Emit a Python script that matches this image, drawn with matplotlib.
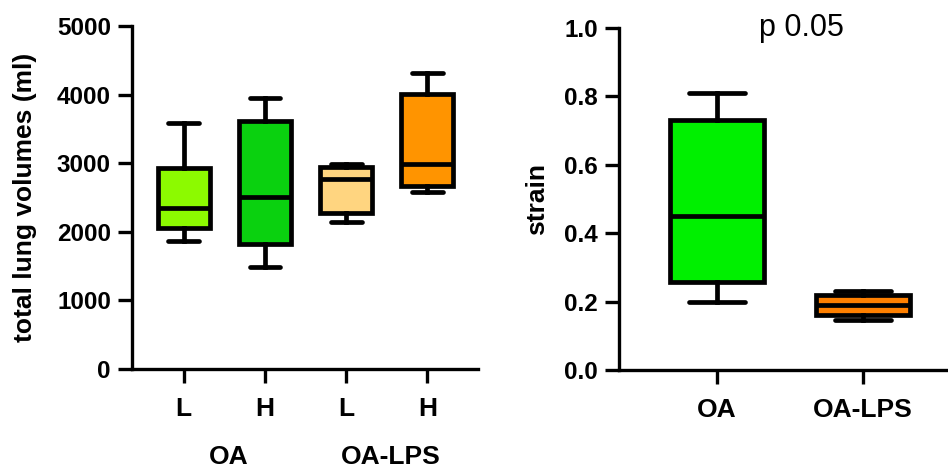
import matplotlib.pyplot as plt

plt.rcParams['font.family'] = ['Liberation Sans', 'DejaVu Sans']
plt.rcParams['font.weight'] = 'bold'

# left panel: total lung volumes (ml)
vol_groups = ['L', 'H', 'L', 'H']
vol_whislo = [1866, 1487, 2143, 2580]
vol_q1 = [2055, 1822, 2274, 2668]
vol_med = [2347, 2507, 2770, 2988]
vol_q3 = [2930, 3615, 2945, 4009]
vol_whishi = [3586, 3950, 2988, 4315]
vol_colors = ['#8cfa00', '#0ad10f', '#ffd580', '#ff9400']

# right panel: strain
strain_groups = ['OA', 'OA-LPS']
strain_whislo = [0.199, 0.146]
strain_q1 = [0.257, 0.161]
strain_med = [0.450, 0.190]
strain_q3 = [0.731, 0.219]
strain_whishi = [0.810, 0.231]
strain_colors = ['#00f000', '#ff8000']


def make_stats(lo, q1, med, q3, hi):
    return [dict(whislo=a, q1=b, med=c, q3=d, whishi=e, fliers=[])
            for a, b, c, d, e in zip(lo, q1, med, q3, hi)]


def draw_boxes(ax, stats, colors):
    lw = 3.4
    bp = ax.bxp(stats, positions=range(1, len(stats) + 1), widths=0.64,
                capwidths=0.38, patch_artist=True, showfliers=False,
                boxprops=dict(linewidth=lw, edgecolor='black'),
                whiskerprops=dict(linewidth=lw, color='black'),
                capprops=dict(linewidth=lw, color='black', solid_capstyle='round'),
                medianprops=dict(linewidth=lw, color='black'))
    for patch, c in zip(bp['boxes'], colors):
        patch.set_facecolor(c)


def style_axis(ax):
    for s in ['top', 'right']:
        ax.spines[s].set_visible(False)
    for s in ['left', 'bottom']:
        ax.spines[s].set_linewidth(2.4)
    ax.tick_params(axis='both', width=2.4, length=10)
    ax.tick_params(axis='y', pad=5, labelsize=17.5)
    ax.tick_params(axis='x', pad=10, labelsize=19)
    for lab in ax.get_xticklabels() + ax.get_yticklabels():
        lab.set_fontweight('bold')


fig = plt.figure(figsize=(9.48, 4.71), dpi=100)

ax1 = fig.add_axes([0.139, 0.2166, 0.365, 0.728])
draw_boxes(ax1, make_stats(vol_whislo, vol_q1, vol_med, vol_q3, vol_whishi), vol_colors)
ax1.set_ylim(0, 5000)
ax1.set_yticks([0, 1000, 2000, 3000, 4000, 5000])
ax1.set_xlim(0.36, 4.62)
ax1.set_xticks([1, 2, 3, 4])
ax1.set_xticklabels(vol_groups)
ax1.set_ylabel('total lung volumes (ml)', fontsize=19, fontweight='bold', va='center')
ax1.yaxis.set_label_coords(-0.31, 0.5)
style_axis(ax1)
ax1.text(1.55, -0.258, 'OA', transform=ax1.get_xaxis_transform(),
         ha='center', va='center', fontsize=19, fontweight='bold')
ax1.text(3.55, -0.258, 'OA-LPS', transform=ax1.get_xaxis_transform(),
         ha='center', va='center', fontsize=19, fontweight='bold')

ax2 = fig.add_axes([0.653, 0.214, 0.347, 0.727])
draw_boxes(ax2, make_stats(strain_whislo, strain_q1, strain_med, strain_q3, strain_whishi), strain_colors)
ax2.set_ylim(0, 1.0)
ax2.set_yticks([0.0, 0.2, 0.4, 0.6, 0.8, 1.0])
ax2.set_yticklabels(['0.0', '0.2', '0.4', '0.6', '0.8', '1.0'])
ax2.set_xlim(0.33, 2.58)
ax2.set_xticks([1, 2])
ax2.set_xticklabels(strain_groups)
ax2.set_ylabel('strain', fontsize=19, fontweight='bold', va='center')
ax2.yaxis.set_label_coords(-0.25, 0.5)
style_axis(ax2)
ax2.text(1.58, 1.0, 'p 0.05', ha='center', va='center', fontsize=22,
         fontweight='normal', clip_on=False)

fig.savefig('out.png', dpi=100)
